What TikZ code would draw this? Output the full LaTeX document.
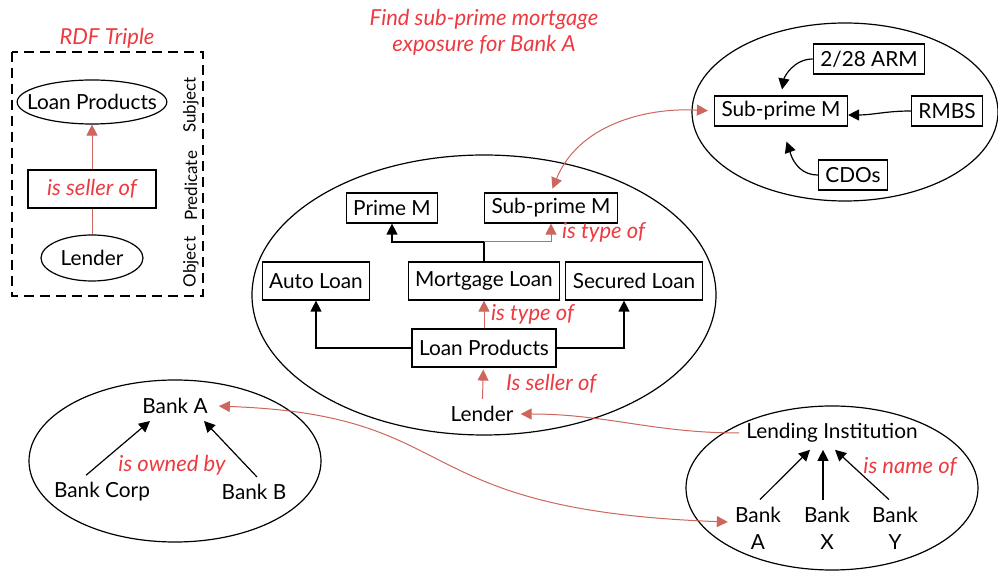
\documentclass[tikz,border=0pt]{standalone}
\usepackage{fontspec}
\setmainfont{Lato}
\usepackage{xcolor}
\usepackage{tikz}
\usetikzlibrary{arrows.meta, positioning, shapes.geometric}

\definecolor{linkred}{RGB}{205,102,92}
\definecolor{labelred}{RGB}{236,58,64}

\begin{document}
\begin{tikzpicture}[x=0.5pt, y=0.5pt, line width=0.6pt,
    font=\fontsize{10.4}{12}\selectfont,
    tip/.style={-{Triangle[length=5.5pt, width=5.5pt]}},
    bilink/.style={{Triangle[length=5.5pt, width=5.5pt]}-{Triangle[length=5.5pt, width=5.5pt]}, linkred, line width=0.5pt},
    blink/.style={tip, black},
    rlink/.style={tip, linkred, line width=0.5pt},
    rel/.style={text=labelred, font=\fontsize{11}{12}\selectfont\itshape},
    box/.style={draw, minimum height=15pt, inner xsep=3.5pt, inner ysep=1pt},
    tallbox/.style={box, minimum height=19pt},
    oval/.style={draw, ellipse, inner sep=1pt}]
  \useasboundingbox (0,0) rectangle (998,-571);

  % RDF triple legend
  \node[rel] (rdftitle) at (107,-38) {RDF Triple};
  \draw[dash pattern=on 5pt off 3pt] (12,-52) rectangle (203,-296);
  \node[oval, inner xsep=-6pt, inner ysep=3pt, minimum width=70.5pt, minimum height=22pt] (subj) at (92,-102) {Loan Products};
  \node[tallbox, minimum width=64pt, rel] (pred) at (92,-189) {is seller of};
  \node[oval, minimum width=51pt, minimum height=23pt] (obj) at (92,-258) {Lender};
  \draw[linkred, line width=0.5pt] (obj) -- (pred);
  \draw[rlink] (pred) -- (subj);
  \node[rotate=90, font=\fontsize{8.5}{10}\selectfont] (subjlbl) at (191,-105) {Subject};
  \node[rotate=90, font=\fontsize{8.5}{10}\selectfont] (predlbl) at (191,-186) {Predicate};
  \node[rotate=90, font=\fontsize{8.5}{10}\selectfont] (objlbl) at (191,-262) {Object};

  % Query
  \node[rel, align=center, font=\fontsize{11}{13}\selectfont\itshape] (query) at (484,-32)
    {Find sub-prime mortgage\\exposure for Bank A};

  % Loan product taxonomy
  \draw (484,-295) ellipse [x radius=232, y radius=140];
  \node[box] (primem) at (392,-208) {Prime M};
  \node[box] (subm) at (551,-208) {Sub-prime M};
  \node[tallbox] (auto) at (316,-281) {Auto Loan};
  \node[tallbox] (mort) at (484,-281) {Mortgage Loan};
  \node[tallbox] (secured) at (634,-281) {Secured Loan};
  \node[tallbox] (lp) at (484,-348) {Loan Products};
  \node (lender) at (482,-414) {Lender};
  \coordinate (split) at (484,-242);
  \draw[blink] (lp.west) -| (auto.south);
  \draw[blink] (lp.east) -| ([xshift=-5pt]secured.south);
  \draw[rlink] (lp) -- (mort) node[midway, right, rel] (typemort) {is type of};
  \draw[blink] (mort) -- (split) -| (primem);
  \draw[rlink] (split) -| (subm) node[pos=0.75, right=2pt, rel] (typesub) {is type of};
  \draw[rlink, shorten >=1pt] (lender) -- (lp) node[midway, right=8pt, rel] (sells) {Is seller of};

  % Sub-prime mortgage products
  \draw (845,-112) ellipse [x radius=153, y radius=89];
  \node[box] (subtr) at (781,-111) {Sub-prime M};
  \node[box] (arm) at (869,-59) {2/28 ARM};
  \node[box] (rmbs) at (947,-111) {RMBS};
  \node[box] (cdos) at (853,-175) {CDOs};
  \draw[blink, shorten >=3pt] (arm.west) to[out=180, in=80] (subtr.north);
  \draw[blink] (rmbs.west) to[out=180, in=0] ([yshift=-2pt]subtr.east);
  \draw[blink, shorten >=8pt] (cdos.west) to[out=180, in=-70] (subtr.south);
  \draw[bilink, shorten <=3pt, shorten >=2pt] (subtr.west) to[out=177, in=68] (subm.north);

  % Ownership
  \draw (175,-461) ellipse [x radius=146, y radius=81];
  \node (bankal) at (175,-406) {Bank A};
  \node (bankcorp) at (102,-492) {Bank Corp};
  \node (bankb) at (254,-492) {Bank B};
  \draw[blink] ([xshift=-8pt]bankcorp.north) -- ([xshift=-12.5pt]bankal.south);
  \draw[blink] ([xshift=1.5pt]bankb.north) -- ([xshift=14.5pt]bankal.south);
  \node[rel] (owned) at (172,-465) {is owned by};

  % Lending institution names
  \draw (832,-488) ellipse [x radius=146, y radius=82];
  \node (lendinst) at (832,-433) {Lending Institution};
  \node[align=center, font=\fontsize{10.4}{13.5}\selectfont] (bankar) at (758,-528) {Bank\\A};
  \node[align=center, font=\fontsize{10.4}{13.5}\selectfont] (bankx) at (827,-528) {Bank\\X};
  \node[align=center, font=\fontsize{10.4}{13.5}\selectfont] (banky) at (895,-528) {Bank\\Y};
  \draw[blink] ([xshift=1pt]bankar.north) -- ([xshift=-11pt]lendinst.south);
  \draw[blink] ([xshift=-2pt]bankx.north) -- ([xshift=-4.5pt]lendinst.south);
  \draw[blink] ([xshift=-3pt]banky.north) -- ([xshift=1.5pt]lendinst.south);
  \node[rel] (nameof) at (910,-467) {is name of};

  % Cross links
  \draw[rlink] (lendinst.west) to[out=180, in=0] (lender.east);
  \draw[bilink, shorten <=2pt] (bankal.east) .. controls (470,-415) and (400,-510) .. ([yshift=3pt]bankar.west);
\end{tikzpicture}
\end{document}
